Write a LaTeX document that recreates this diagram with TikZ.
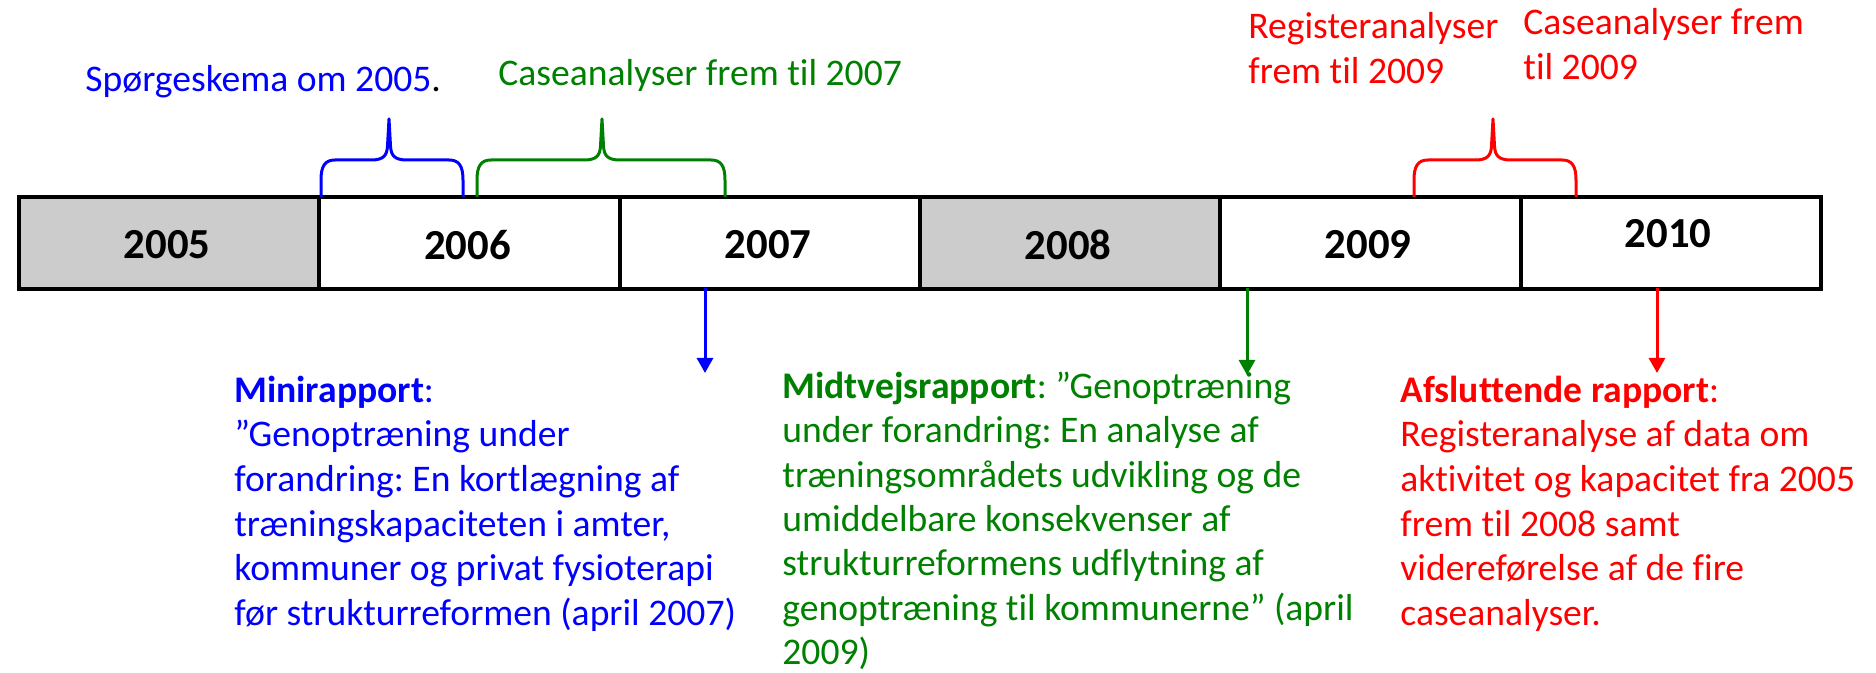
\documentclass[tikz,border=0pt]{standalone}
\usepackage{fontspec}
\setmainfont{Carlito}[Ligatures=NoCommon]
\usetikzlibrary{arrows.meta}
\definecolor{tlblue}{RGB}{0,0,255}
\definecolor{tlgreen}{RGB}{0,128,0}
\definecolor{tlred}{RGB}{255,0,0}
\definecolor{tlgray}{RGB}{204,204,204}
\newcommand\tlbrace[4]{\draw[bracestyle,#4] (#1,197) -- (#1,180) .. controls (#1,166) and (#1+4,160) .. (#1+14,160) -- (#2-18,160) .. controls (#2-6,160) and (#2-2,156) .. (#2-1.5,146) -- (#2,119) -- (#2+1.5,146) .. controls (#2+2,156) and (#2+6,160) .. (#2+18,160) -- (#3-14,160) .. controls (#3-4,160) and (#3,166) .. (#3,180) -- (#3,197);}
\frenchspacing
\begin{document}
\begin{tikzpicture}[x=0.5pt,y=-0.5pt,
  cell/.style={draw=black,line width=2pt,minimum width=150.15pt,minimum height=46pt,inner sep=0pt,anchor=north west},
  year/.style={font=\fontsize{21.4}{25}\selectfont\bfseries,inner sep=0pt},
  body/.style={font=\fontsize{18.8}{22.25}\selectfont,align=left,inner sep=0pt,anchor=base west},
  toplbl/.style={font=\fontsize{18.8}{22.5}\selectfont,align=left,inner sep=0pt,anchor=base west},
  bracestyle/.style={line width=1.5pt,line join=round},
  rep/.style={line width=1.5pt,-{Triangle[width=8pt,length=7.5pt]}}]
\useasboundingbox (0,0) rectangle (1876,673);
% timeline cells
\node[cell,fill=tlgray] (c5) at (17,195) {};
\node[cell] (c6) at (317.3,195) {};
\node[cell] (c7) at (617.6,195) {};
\node[cell,fill=tlgray] (c8) at (917.9,195) {};
\node[cell] (c9) at (1218.2,195) {};
\node[cell] (c10) at (1518.5,195) {};
% years
\node[year] (y5) at (167,245) {2005};
\node[year] (y6) at (467.5,245) {2006};
\node[year] (y7) at (768,245) {2007};
\node[year] (y8) at (1068,245) {2008};
\node[year] (y9) at (1368,245) {2009};
\node[year] (y10) at (1668,234) {2010};
% top labels (base = last line)
\node[toplbl,text=tlblue] (q1) at (85,92) {Spørgeskema om 2005\textcolor{black}{.}};
\node[toplbl,text=tlgreen] (q2) at (498,86) {Caseanalyser frem til 2007};
\node[toplbl,text=tlred] (q3) at (1248,83.5) {Registeranalyser\\frem til 2009};
\node[toplbl,text=tlred] (q4) at (1523,80) {Caseanalyser frem\\til 2009};
% braces
\tlbrace{321}{389}{463}{tlblue}
\tlbrace{477}{602}{725}{tlgreen}
\tlbrace{1414}{1493}{1576}{tlred}
% report texts (base = last line)
\node[body,text=tlblue] (r1) at (234,625) {\textbf{Minirapport}:\\”Genoptræning under\\forandring: En kortlægning af\\træningskapaciteten i amter,\\kommuner og privat fysioterapi\\før strukturreformen (april 2007)};
\node[body,text=tlgreen] (r2) at (782,665) {\textbf{Midtvejsrapport}: ”Genoptræning\\under forandring: En analyse af\\træningsområdets udvikling og de\\umiddelbare konsekvenser af\\strukturreformens udflytning af\\genoptræning til kommunerne” (april\\2009)};
\node[body,text=tlred] (r3) at (1400,625) {\textbf{Afsluttende rapport}:\\Registeranalyse af data om\\aktivitet og kapacitet fra 2005\\frem til 2008 samt\\videreførelse af de fire\\caseanalyser.};
% arrows
\coordinate (a1s) at (705,288);
\coordinate (a1e) at (705,373);
\coordinate (a2s) at (1247,288);
\coordinate (a2e) at (1247,375);
\coordinate (a3s) at (1657,288);
\coordinate (a3e) at (1657,373);
\draw[rep,tlblue] (a1s) -- (a1e);
\draw[rep,tlgreen] (a2s) -- (a2e);
\draw[rep,tlred] (a3s) -- (a3e);
\end{tikzpicture}
\end{document}
